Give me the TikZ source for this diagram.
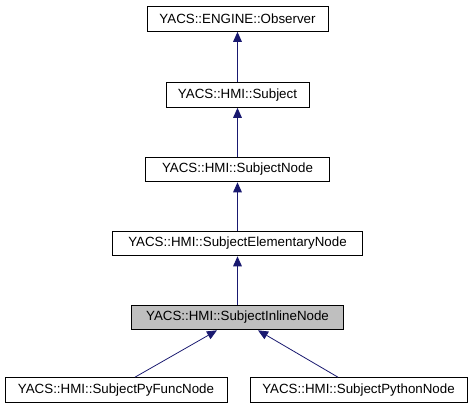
\documentclass[tikz,border=0pt]{standalone}
\usepackage{fontspec}
\setmainfont{Liberation Sans}
\usetikzlibrary{arrows.meta}
\definecolor{edgeblue}{HTML}{191970}
\definecolor{hlgray}{HTML}{BFBFBF}
\begin{document}
\begin{tikzpicture}[x=0.75pt,y=-0.75pt,
  cls/.style={draw=black, line width=0.75pt, fill=white, minimum height=18.5pt, inner sep=0pt, font=\fontsize{10}{12}\selectfont},
  inh/.style={draw=edgeblue, line width=0.75pt, -{Triangle[length=7.5pt,width=6.5pt,fill=edgeblue]}},
  inhd/.style={inh, line width=0.6pt}]
\useasboundingbox[fill=white] (0,0) rectangle (471,411);
\node[cls, minimum width=135.75pt] (obs) at (237.5,19) {YACS::ENGINE::Observer};
\node[cls, minimum width=107.25pt] (subj) at (237.5,95) {YACS::HMI::Subject};
\node[cls, minimum width=138pt] (snode) at (237.5,169.5) {YACS::HMI::SubjectNode};
\node[cls, minimum width=187.5pt] (elem) at (237.5,243.5) {YACS::HMI::SubjectElementaryNode};
\node[cls, minimum width=159pt, fill=hlgray] (inl) at (237.5,317.5) {YACS::HMI::SubjectInlineNode};
\node[cls, minimum width=166.5pt] (pyf) at (116,390) {YACS::HMI::SubjectPyFuncNode};
\node[cls, minimum width=162.75pt] (pyt) at (358.5,390) {YACS::HMI::SubjectPythonNode};
\draw[inh] (subj.north) -- (obs.south);
\draw[inh] (snode.north) -- (subj.south);
\draw[inh] (elem.north) -- (snode.south);
\draw[inh] (inl.north) -- (elem.south);
\draw[inhd] ([xshift=14.25pt]pyf.north) -- ([xshift=-15.4pt]inl.south);
\draw[inhd] ([xshift=-15.4pt]pyt.north) -- ([xshift=15.4pt]inl.south);
\end{tikzpicture}
\end{document}
